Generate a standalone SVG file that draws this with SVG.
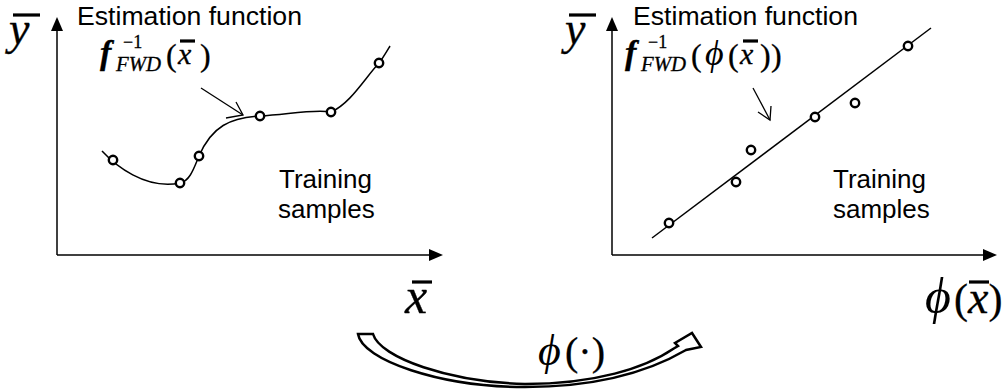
<svg xmlns="http://www.w3.org/2000/svg" width="1005" height="392" viewBox="0 0 1005 392">
<style>
.lbl{font-family:"Liberation Sans",Arial,sans-serif;font-size:26px;fill:#000}
.m{font-family:"Liberation Serif","Times New Roman",serif;fill:#000;stroke:#000;stroke-width:0.3}
.it{font-style:italic}
.ph{stroke-width:0}
.ax{stroke:#000;stroke-width:1.5;fill:none}
.ah{fill:#000}
.pt{fill:#fff;stroke:#000;stroke-width:2.4}
.bar{stroke:#000;stroke-width:3.2}
.ptr{stroke:#000;stroke-width:1.3;fill:none}
</style>
<rect width="1005" height="392" fill="#fff"/>
<g id="left-plot">
  <line class="ax" x1="57" y1="255" x2="57" y2="29"/>
  <polygon class="ah" points="57,17 51,31 63,31"/>
  <line class="ax" x1="57" y1="255" x2="431" y2="255"/>
  <polygon class="ah" points="443,255 429,249 429,261"/>
  <text class="m it" x="9" y="44" font-size="46">y</text>
  <line class="bar" x1="13" y1="15" x2="40" y2="15"/>
  <text class="m it" x="405" y="313" font-size="50">x</text>
  <line class="bar" x1="412" y1="282" x2="432" y2="282"/>
  <text class="lbl" x="77" y="25" textLength="225" lengthAdjust="spacingAndGlyphs">Estimation function</text>
  <text class="m it" x="100" y="64" font-size="34" font-weight="bold">f</text>
  <text class="m" x="123" y="48" font-size="18">−1</text>
  <text class="m it" x="116" y="71" font-size="20" textLength="45" lengthAdjust="spacingAndGlyphs">FWD</text>
  <text class="m" x="166" y="66" font-size="32">(</text>
  <text class="m it" x="178" y="64" font-size="30">x</text>
  <text class="m" x="200" y="66" font-size="32">)</text>
  <line class="bar" x1="180" y1="41" x2="195" y2="41"/>
  <path class="ax" d="M102,151 C115,165 145,190 180,183 C190,181 194,168 199,156 C212,126 230,118 260,116 C290,114 315,109 331,112 C350,104 365,78 379,63 C383,58 387,51 390,46"/>
  <line class="ptr" x1="201" y1="88" x2="243" y2="115"/>
  <polyline class="ptr" points="236,102 243,115 226,118"/>
  <circle class="pt" cx="113" cy="160" r="4.2"/>
  <circle class="pt" cx="180" cy="183" r="4.2"/>
  <circle class="pt" cx="199" cy="156" r="4.2"/>
  <circle class="pt" cx="260" cy="116" r="4.2"/>
  <circle class="pt" cx="331" cy="112" r="4.2"/>
  <circle class="pt" cx="379" cy="63" r="4.2"/>
  <text class="lbl" x="279" y="188">Training</text>
  <text class="lbl" x="278" y="218">samples</text>
</g>
<g id="right-plot">
  <line class="ax" x1="612" y1="255" x2="612" y2="29"/>
  <polygon class="ah" points="612,17 606,31 618,31"/>
  <line class="ax" x1="612" y1="255" x2="985" y2="255"/>
  <polygon class="ah" points="997,255 983,249 983,261"/>
  <text class="m it" x="565" y="44" font-size="46">y</text>
  <line class="bar" x1="569" y1="15" x2="596" y2="15"/>
  <text class="m it ph" x="925" y="313" font-size="50">ϕ</text>
  <text class="m" x="954" y="313" font-size="42">(<tspan font-style="italic" font-size="46">x</tspan>)</text>
  <line class="bar" x1="969" y1="282" x2="989" y2="282"/>
  <text class="lbl" x="633" y="25" textLength="225" lengthAdjust="spacingAndGlyphs">Estimation function</text>
  <text class="m it" x="625" y="64" font-size="34" font-weight="bold">f</text>
  <text class="m" x="648" y="48" font-size="18">−1</text>
  <text class="m it" x="641" y="71" font-size="20" textLength="45" lengthAdjust="spacingAndGlyphs">FWD</text>
  <text class="m" x="691" y="66" font-size="32">(</text>
  <text class="m it ph" x="705" y="65" font-size="36">ϕ</text>
  <text class="m" x="728" y="66" font-size="32">(</text>
  <text class="m it" x="740" y="64" font-size="30">x</text>
  <text class="m" x="760" y="66" font-size="32">)</text>
  <text class="m" x="771" y="66" font-size="32">)</text>
  <line class="bar" x1="743" y1="41" x2="758" y2="41"/>
  <line class="ax" x1="652" y1="238" x2="931" y2="28"/>
  <line class="ptr" x1="753" y1="88" x2="770" y2="120"/>
  <polyline class="ptr" points="758,112 770,120 771,106"/>
  <circle class="pt" cx="669" cy="223" r="4.2"/>
  <circle class="pt" cx="736" cy="182" r="4.2"/>
  <circle class="pt" cx="751" cy="150" r="4.2"/>
  <circle class="pt" cx="815" cy="117" r="4.2"/>
  <circle class="pt" cx="855" cy="103" r="4.2"/>
  <circle class="pt" cx="908" cy="46" r="4.2"/>
  <text class="lbl" x="833" y="188">Training</text>
  <text class="lbl" x="833" y="218">samples</text>
</g>
<g id="connectors">
  <path d="M358,334 L373,334 C380,358 450,382 525,384 C595,384 645,368 673,349 L678,346 L675,343 L692,333 L701,347 L686,350 C650,371 600,387 525,387 C440,387 362,360 358,334 Z" fill="#fff" stroke="#000" stroke-width="2.5" stroke-linejoin="miter"/>
</g>
<g id="phi-label">
  <text class="m it ph" x="538" y="365" font-size="44">ϕ</text>
  <text class="m" x="565" y="365" font-size="40">(·)</text>
</g>
</svg>
